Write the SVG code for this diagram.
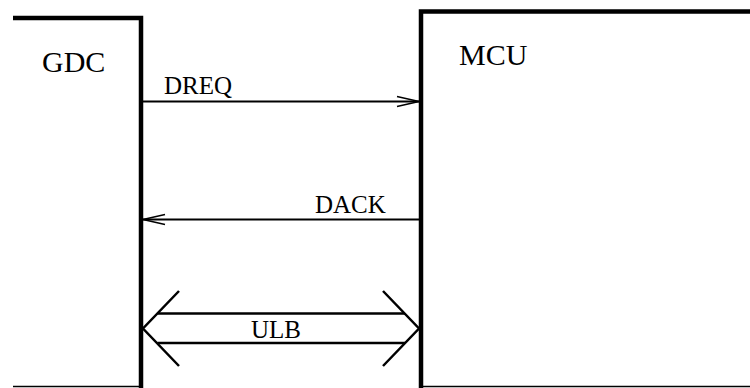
<svg xmlns="http://www.w3.org/2000/svg" width="750" height="388" viewBox="0 0 750 388">
  <style>
    .thick { stroke: #000; stroke-width: 4.5; fill: none; }
    .thin { stroke: #000; stroke-width: 1.5; fill: none; }
    .sig { stroke: #000; stroke-width: 2; fill: none; }
    .bus { stroke: #000; stroke-width: 2.5; fill: none; }
    .big { font-family: "Liberation Serif", "Times New Roman", serif; font-size: 30px; fill: #000; }
    .lbl { font-family: "Liberation Serif", "Times New Roman", serif; font-size: 25px; fill: #000; }
  </style>
  <rect width="750" height="388" fill="#fff"/>

  <g id="gdc">
    <path class="thick" d="M13,18 H141 V388"/>
    <line class="thin" x1="13" y1="386.5" x2="141" y2="386.5"/>
    <text class="big" x="42" y="72">GDC</text>
  </g>

  <g id="mcu">
    <path class="thick" d="M750,11.5 H421 V388"/>
    <line class="thin" x1="421" y1="386.5" x2="750" y2="386.5"/>
    <text class="big" x="459" y="65">MCU</text>
  </g>

  <g id="connectors">
    <!-- DREQ: GDC to MCU -->
    <line class="sig" x1="143" y1="101.5" x2="419" y2="101.5"/>
    <polyline class="thin" points="397,96.5 419,101.5 397,106.5"/>
    <text class="lbl" x="164" y="94">DREQ</text>

    <!-- DACK: MCU to GDC -->
    <line class="sig" x1="143" y1="219.5" x2="419" y2="219.5"/>
    <polyline class="thin" points="165,214.5 143,219.5 165,224.5"/>
    <text class="lbl" x="315" y="212.5">DACK</text>

    <!-- ULB: bidirectional bus -->
    <line class="bus" x1="157.5" y1="313.5" x2="405" y2="313.5"/>
    <line class="bus" x1="157.5" y1="343" x2="405" y2="343"/>
    <polyline class="bus" points="179,291 143,328.5 179,366"/>
    <polyline class="bus" points="383,291 419,328.5 383,366"/>
    <text class="lbl" x="251" y="337.5">ULB</text>
  </g>
</svg>
